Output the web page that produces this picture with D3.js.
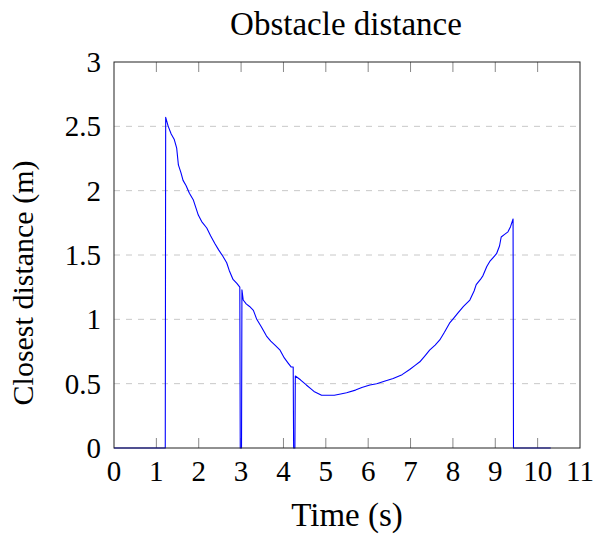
<!DOCTYPE html>
<html>
<head>
<meta charset="utf-8">
<script src="https://cdn.jsdelivr.net/npm/d3@7"></script>
<style>
  body { margin: 0; background: #fff; }
  text { font-family: "Liberation Serif", "DejaVu Serif", serif; fill: #000; }
</style>
</head>
<body>
<div id="chart"></div>
<script>
// values
var time = [0, 1.21, 1.22, 1.28, 1.35, 1.42, 1.48, 1.52, 1.58, 1.63, 1.70, 1.78, 1.87, 1.93, 1.99,
  2.07, 2.19, 2.28, 2.38, 2.47, 2.57, 2.66, 2.72, 2.81, 2.90, 2.97, 2.98, 3.01, 3.02, 3.05,
  3.12, 3.20, 3.29, 3.37, 3.48, 3.60, 3.70, 3.80, 3.92, 4.02, 4.11, 4.18, 4.23, 4.24, 4.27,
  4.28, 4.40, 4.54, 4.65, 4.72, 4.78, 4.90, 5.02, 5.20, 5.35, 5.49, 5.70, 5.85, 6.04, 6.20, 6.40,
  6.59, 6.80, 6.98, 7.10, 7.22, 7.35, 7.45, 7.58, 7.69, 7.80, 7.92, 8.02, 8.12, 8.25, 8.40,
  8.50, 8.55, 8.65, 8.71, 8.80, 8.87, 8.95, 9.03, 9.10, 9.14, 9.22, 9.30, 9.36, 9.42, 9.43, 10.31];
var dist = [0, 0, 2.57, 2.50, 2.44, 2.40, 2.33, 2.20, 2.14, 2.08, 2.04, 1.98, 1.93, 1.87, 1.81,
  1.76, 1.71, 1.65, 1.59, 1.54, 1.49, 1.44, 1.38, 1.31, 1.28, 1.25, 0, 0, 1.23, 1.15,
  1.12, 1.10, 1.07, 1.00, 0.94, 0.87, 0.83, 0.80, 0.76, 0.70, 0.66, 0.63, 0.63, 0, 0,
  0.56, 0.53, 0.49, 0.46, 0.44, 0.43, 0.41, 0.41, 0.41, 0.42, 0.43, 0.45, 0.47, 0.49, 0.50, 0.52,
  0.54, 0.57, 0.61, 0.64, 0.67, 0.72, 0.76, 0.80, 0.84, 0.90, 0.97, 1.01, 1.05, 1.10, 1.15,
  1.22, 1.27, 1.31, 1.34, 1.41, 1.45, 1.48, 1.51, 1.57, 1.64, 1.66, 1.68, 1.72, 1.78, 0, 0];
var xTicks = [0, 1, 2, 3, 4, 5, 6, 7, 8, 9, 10, 11];
var yTicks = [0, 0.5, 1, 1.5, 2, 2.5, 3];

var width = 597, height = 537;
var margin = {top: 62, right: 17, bottom: 89, left: 114};
var w = width - margin.left - margin.right;
var h = height - margin.top - margin.bottom;

var svg = d3.select("#chart").append("svg")
  .attr("width", width)
  .attr("height", height);

var g = svg.append("g")
  .attr("transform", "translate(" + margin.left + "," + margin.top + ")");

var x = d3.scaleLinear().domain([0, 11]).range([0, w]);
var y = d3.scaleLinear().domain([0, 3]).range([h, 0]);

// dashed horizontal grid
g.selectAll(".grid")
  .data(yTicks.slice(1, -1))
  .enter().append("line")
  .attr("x1", 0).attr("x2", w)
  .attr("y1", d => y(d)).attr("y2", d => y(d))
  .attr("stroke", "#c8c8c8")
  .attr("stroke-width", 1)
  .attr("stroke-dasharray", "6,6");

// inner tick marks on bottom and top
g.selectAll(".tb")
  .data(xTicks.slice(1, -1))
  .enter().append("line")
  .attr("x1", d => x(d)).attr("x2", d => x(d))
  .attr("y1", h).attr("y2", h - 10)
  .attr("stroke", "#888");
g.selectAll(".tt")
  .data(xTicks.slice(1, -1))
  .enter().append("line")
  .attr("x1", d => x(d)).attr("x2", d => x(d))
  .attr("y1", 0).attr("y2", 10)
  .attr("stroke", "#888");

// tick labels
g.selectAll(".xl")
  .data(xTicks)
  .enter().append("text")
  .attr("x", d => x(d))
  .attr("y", h + 33)
  .attr("text-anchor", "middle")
  .attr("font-size", 29)
  .text(d => d);

g.selectAll(".yl")
  .data(yTicks)
  .enter().append("text")
  .attr("x", -13)
  .attr("y", d => y(d) + 10)
  .attr("text-anchor", "end")
  .attr("font-size", 29)
  .text(d => d);

// the series
var line = d3.line()
  .x((d, i) => x(time[i]))
  .y(d => y(d));

g.append("path")
  .datum(dist)
  .attr("d", line)
  .attr("fill", "none")
  .attr("stroke", "#0000ff")
  .attr("stroke-width", 1.1)
  .attr("stroke-linejoin", "round");

// frame
g.append("rect")
  .attr("width", w).attr("height", h)
  .attr("fill", "none")
  .attr("stroke", "#222")
  .attr("stroke-width", 1);

// titles
svg.append("text")
  .attr("x", 346)
  .attr("y", 35)
  .attr("text-anchor", "middle")
  .attr("font-size", 33)
  .text("Obstacle distance");

svg.append("text")
  .attr("x", 347)
  .attr("y", 526)
  .attr("text-anchor", "middle")
  .attr("font-size", 33)
  .text("Time (s)");

svg.append("text")
  .attr("transform", "translate(33,283)rotate(-90)")
  .attr("text-anchor", "middle")
  .attr("font-size", 30)
  .text("Closest distance (m)");
</script>
</body>
</html>
